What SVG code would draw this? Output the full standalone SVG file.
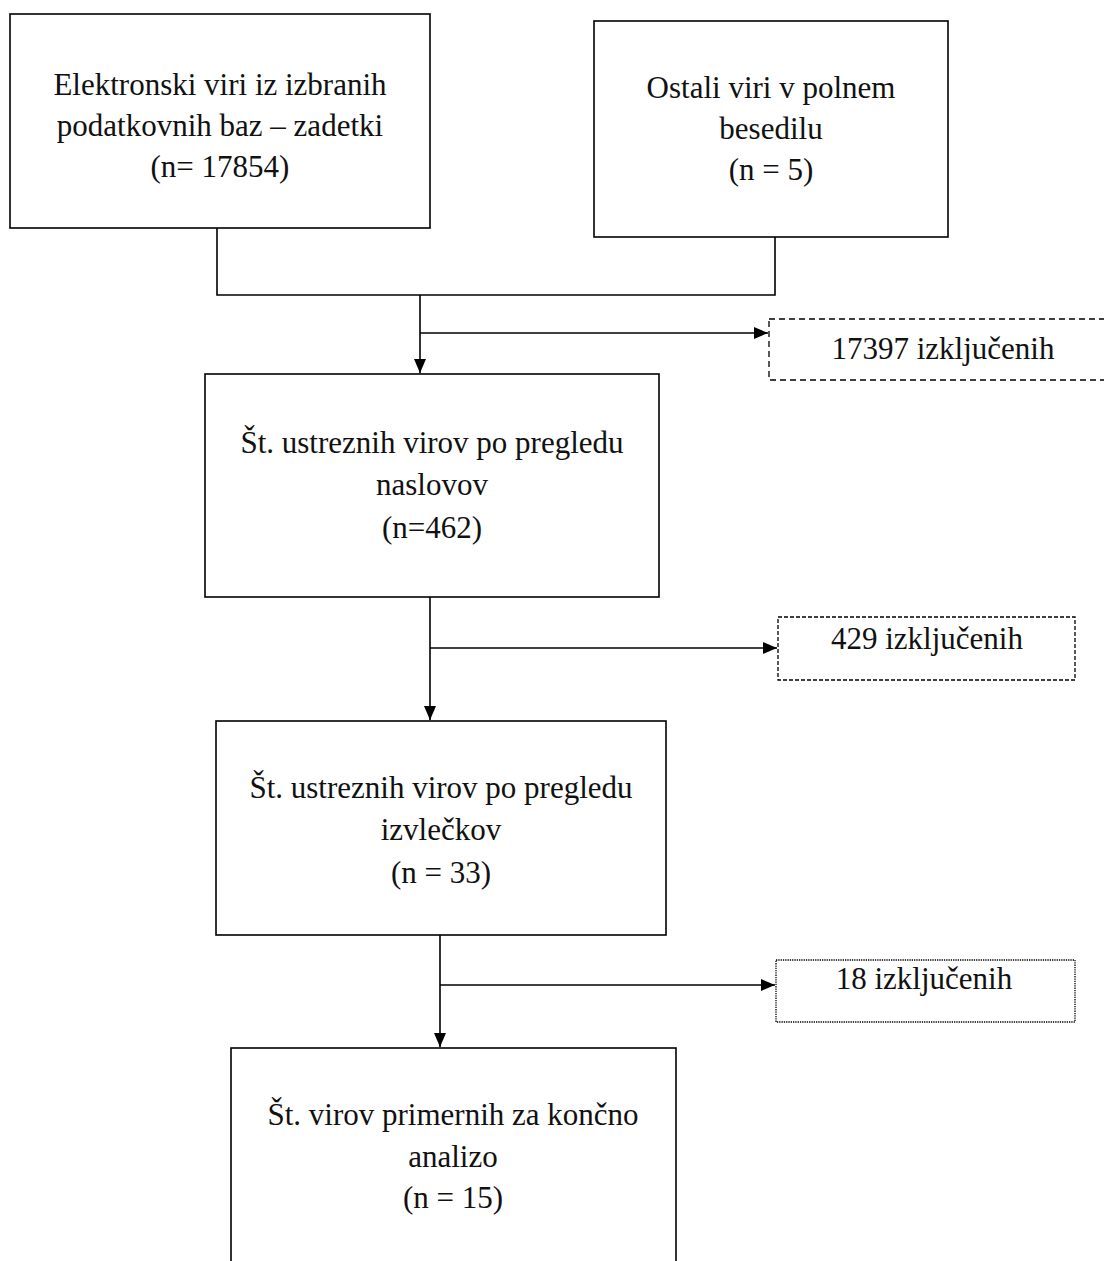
<svg xmlns="http://www.w3.org/2000/svg" width="1104" height="1261" viewBox="0 0 1104 1261">
<style>
.box{fill:#fff;stroke:#000;stroke-width:1.6}
.ex{fill:#fff;stroke:#000;stroke-width:1.3}
.d1{stroke-dasharray:6 4}
.d2{stroke-dasharray:4 2}
.d3{stroke-dasharray:1.3 1}
.t{font-family:"Liberation Serif","Times New Roman",serif;font-size:31px;fill:#111;text-anchor:middle}
.c{fill:none;stroke:#000;stroke-width:1.6}
</style>
<defs>
<marker id="ah" markerUnits="userSpaceOnUse" markerWidth="15" markerHeight="14" refX="14" refY="7" orient="auto">
<path d="M0,1 L14,7 L0,13 Z" fill="#000"/>
</marker>
</defs>
<rect width="1104" height="1261" fill="#fff"/>
<g id="connectors">
<polyline class="c" points="217,228 217,295 775,295 775,237"/>
<line class="c" x1="420" y1="295" x2="420" y2="373" marker-end="url(#ah)"/>
<line class="c" x1="420" y1="333" x2="768" y2="333" marker-end="url(#ah)"/>
<line class="c" x1="430" y1="597" x2="430" y2="720" marker-end="url(#ah)"/>
<line class="c" x1="430" y1="648" x2="777" y2="648" marker-end="url(#ah)"/>
<line class="c" x1="440" y1="935" x2="440" y2="1047" marker-end="url(#ah)"/>
<line class="c" x1="440" y1="985" x2="775" y2="985" marker-end="url(#ah)"/>
</g>
<g id="n1">
<rect class="box" x="10" y="14" width="420" height="214"/>
<text class="t" x="220" y="95">Elektronski viri iz izbranih</text>
<text class="t" x="220" y="136">podatkovnih baz – zadetki</text>
<text class="t" x="220" y="177">(n= 17854)</text>
</g>
<g id="n2">
<rect class="box" x="594" y="21" width="354" height="216"/>
<text class="t" x="771" y="98">Ostali viri v polnem</text>
<text class="t" x="771" y="139">besedilu</text>
<text class="t" x="771" y="180">(n = 5)</text>
</g>
<g id="x1">
<rect class="ex d1" x="769" y="319" width="348" height="61"/>
<text class="t" x="943" y="359">17397 izključenih</text>
</g>
<g id="n3">
<rect class="box" x="205" y="374" width="454" height="223"/>
<text class="t" x="432" y="453">Št. ustreznih virov po pregledu</text>
<text class="t" x="432" y="495">naslovov</text>
<text class="t" x="432" y="538">(n=462)</text>
</g>
<g id="x2">
<rect class="ex d2" x="778" y="617" width="297" height="63"/>
<text class="t" x="927" y="649">429 izključenih</text>
</g>
<g id="n4">
<rect class="box" x="216" y="721" width="450" height="214"/>
<text class="t" x="441" y="798">Št. ustreznih virov po pregledu</text>
<text class="t" x="441" y="840">izvlečkov</text>
<text class="t" x="441" y="883">(n = 33)</text>
</g>
<g id="x3">
<rect class="ex d3" x="776" y="960" width="299" height="62"/>
<text class="t" x="924" y="989">18 izključenih</text>
</g>
<g id="n5">
<rect class="box" x="231" y="1048" width="445" height="240"/>
<text class="t" x="453" y="1125">Št. virov primernih za končno</text>
<text class="t" x="453" y="1167">analizo</text>
<text class="t" x="453" y="1208">(n = 15)</text>
</g>
</svg>
